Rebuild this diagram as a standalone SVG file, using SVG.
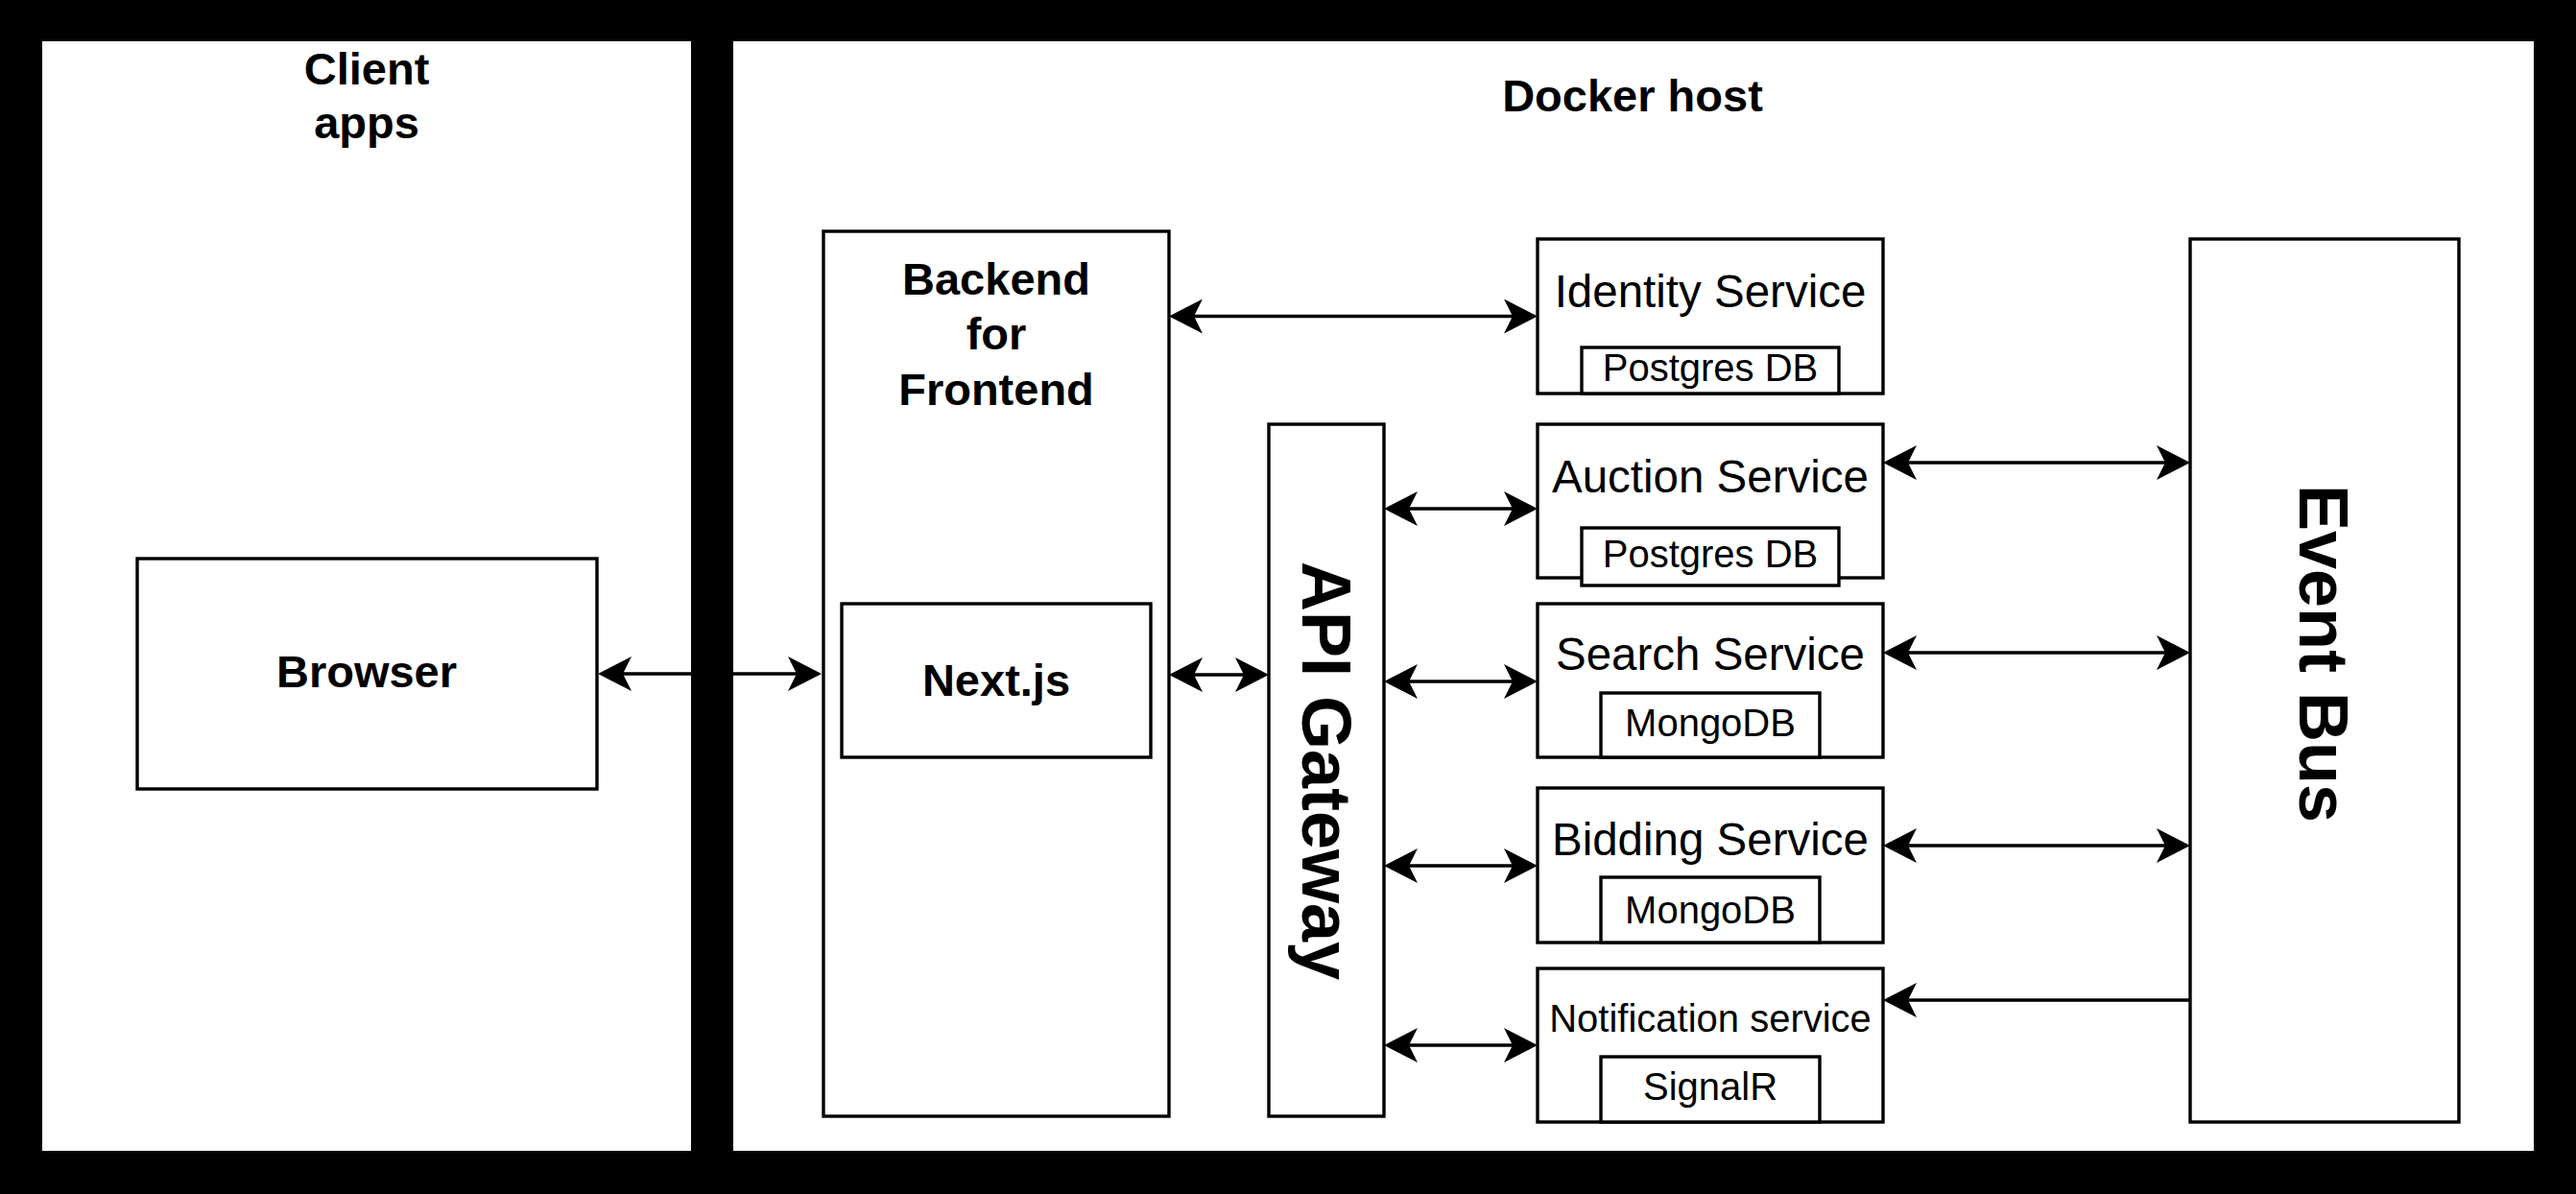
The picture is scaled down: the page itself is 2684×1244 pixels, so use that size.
<svg xmlns="http://www.w3.org/2000/svg" width="2684" height="1244" viewBox="0 0 2684 1244">
<style>
.box{fill:#fff;stroke:#000;stroke-width:3.4}
.t{font-family:"Liberation Sans",Arial,sans-serif;fill:#000;text-anchor:middle}
.b{font-weight:bold;font-size:47px}
.big{font-weight:bold;font-size:72px}
.m{font-size:47.5px}
.s{font-size:40px}
.c{fill:none;stroke:#000;stroke-width:3.4}
.bi{marker-start:url(#ah);marker-end:url(#ah)}
.uni{marker-end:url(#ah)}
</style>
<defs>
<marker id="ah" markerUnits="userSpaceOnUse" viewBox="0 0 35 36" markerWidth="35" markerHeight="36" refX="25" refY="18" orient="auto-start-reverse">
<path d="M35,18 L0,0 L9,18 L0,36 Z" fill="#000"/>
</marker>
</defs>
<rect x="0" y="0" width="2684" height="1244" fill="#000"/>
<g id="client-apps">
<rect x="44" y="43" width="676" height="1156" fill="#fff"/>
<text class="t b" x="382" y="88">Client</text>
<text class="t b" x="382" y="144">apps</text>
</g>
<g id="docker-host">
<rect x="764" y="43" width="1876" height="1156" fill="#fff"/>
<text class="t b" x="1701" y="116">Docker host</text>
</g>
<g id="browser">
<rect class="box" x="143" y="582" width="479" height="240"/>
<text class="t b" x="382" y="716">Browser</text>
</g>
<g id="bff">
<rect class="box" x="858" y="241" width="360" height="922"/>
<text class="t b" x="1038" y="307">Backend</text>
<text class="t b" x="1038" y="364">for</text>
<text class="t b" x="1038" y="422">Frontend</text>
</g>
<g id="nextjs">
<rect class="box" x="877" y="629" width="322" height="160"/>
<text class="t b" x="1038" y="725">Next.js</text>
</g>
<g id="api-gateway">
<rect class="box" x="1322" y="442" width="120" height="721"/>
<text class="t big" transform="translate(1356.5,803) rotate(90)" x="0" y="0">API Gateway</text>
</g>
<g id="identity-service">
<rect class="box" x="1602" y="249" width="360" height="161"/>
<text class="t m" x="1782" y="320">Identity Service</text>
<rect class="box" x="1648" y="362" width="268" height="48"/>
<text class="t s" x="1782" y="397">Postgres DB</text>
</g>
<g id="auction-service">
<rect class="box" x="1602" y="442" width="360" height="160"/>
<text class="t m" x="1782" y="513">Auction Service</text>
<rect class="box" x="1648" y="550" width="268" height="60"/>
<text class="t s" x="1782" y="591">Postgres DB</text>
</g>
<g id="search-service">
<rect class="box" x="1602" y="629" width="360" height="160"/>
<text class="t m" x="1782" y="698">Search Service</text>
<rect class="box" x="1668" y="722" width="228" height="67"/>
<text class="t s" x="1782" y="767">MongoDB</text>
</g>
<g id="bidding-service">
<rect class="box" x="1602" y="821" width="360" height="161"/>
<text class="t m" x="1782" y="891">Bidding Service</text>
<rect class="box" x="1668" y="914" width="228" height="68"/>
<text class="t s" x="1782" y="962">MongoDB</text>
</g>
<g id="notification-service">
<rect class="box" x="1602" y="1009" width="360" height="160"/>
<text class="t s" x="1782" y="1075">Notification service</text>
<rect class="box" x="1668" y="1101" width="228" height="68"/>
<text class="t s" x="1782" y="1146">SignalR</text>
</g>
<g id="event-bus">
<rect class="box" x="2282" y="249" width="280" height="920"/>
<text class="t big" transform="translate(2396,681) rotate(90)" x="0" y="0">Event Bus</text>
</g>
<g id="connectors">
<path class="c bi" d="M633,702 H846"/>
<path class="c bi" d="M1228,329.5 H1592"/>
<path class="c bi" d="M1228,703 H1312"/>
<path class="c bi" d="M1452,530 H1592"/>
<path class="c bi" d="M1452,710 H1592"/>
<path class="c bi" d="M1452,902 H1592"/>
<path class="c bi" d="M1452,1089 H1592"/>
<path class="c bi" d="M1972,482 H2272"/>
<path class="c bi" d="M1972,680 H2272"/>
<path class="c bi" d="M1972,881 H2272"/>
<path class="c uni" d="M2282,1042 H1972"/>
</g>
</svg>
